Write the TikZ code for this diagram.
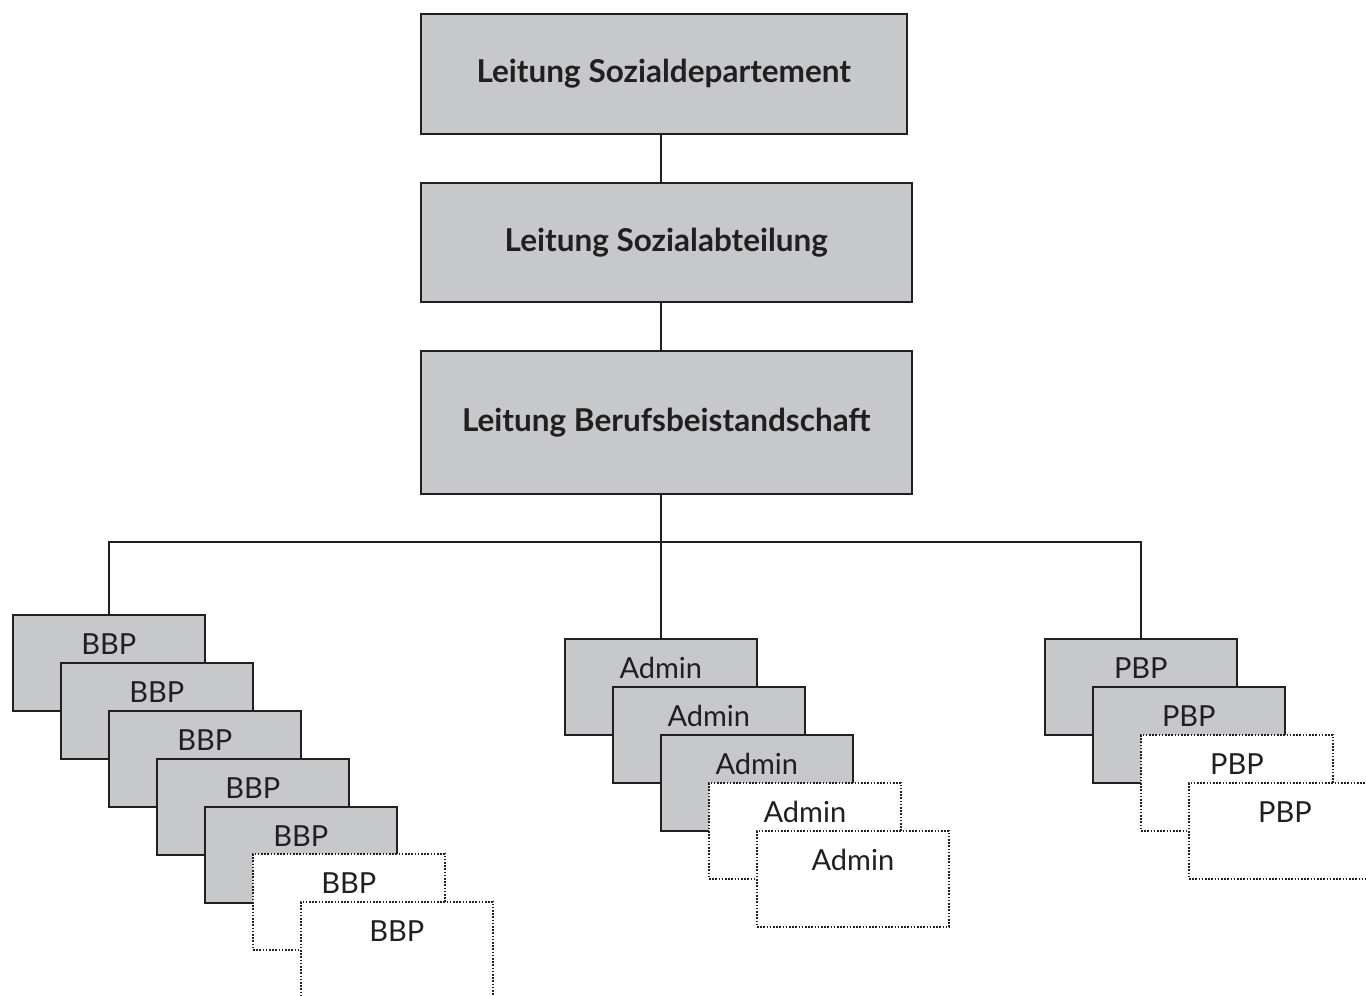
\documentclass[tikz,border=0pt]{standalone}
\usepackage{fontspec}
\setmainfont{Lato}
\definecolor{boxgray}{HTML}{C7C8CA}
\definecolor{ink}{HTML}{231F20}
\begin{document}
\begin{tikzpicture}[x=1pt,y=-1pt,
  line/.style={draw=ink,line width=1.6pt},
  headbox/.style={line,fill=boxgray,rectangle,anchor=north west,inner sep=0pt,
    text=ink,font=\bfseries\fontsize{31.5}{36}\selectfont},
  unitbox/.style={rectangle,anchor=north west,inner xsep=0pt,inner ysep=0pt,
    minimum width=192pt,text height=40pt,text depth=56pt,text=ink,
    font=\fontsize{29}{33}\selectfont},
  solidunit/.style={unitbox,line,fill=boxgray},
  dotunit/.style={unitbox,draw=ink,line width=1.8pt,dash pattern=on 1.6pt off 1.6pt,fill=white}]
\useasboundingbox (0,0) rectangle (1366,996);
\clip (0,0) rectangle (1366,996);
% head boxes
\node[headbox,minimum width=486pt,minimum height=120pt] (sd) at (420,13) {Leitung Sozialdepartement};
\node[headbox,minimum width=491pt,minimum height=119pt] (sa) at (420,182) {Leitung Sozialabteilung};
\node[headbox,minimum width=491pt,minimum height=143pt] (bb) at (420,350) {Leitung Berufsbeistandschaft};
% BBP stack
\node[solidunit] (bbp1) at (12,614) {BBP};
\node[solidunit] (bbp2) at (60,662) {BBP};
\node[solidunit] (bbp3) at (108,710) {BBP};
\node[solidunit] (bbp4) at (156,758) {BBP};
\node[solidunit] (bbp5) at (204,806) {BBP};
\node[dotunit] (bbp6) at (252,853) {BBP};
\node[dotunit] (bbp7) at (300,901) {BBP};
% Admin stack
\node[solidunit] (ad1) at (564,638) {Admin};
\node[solidunit] (ad2) at (612,686) {Admin};
\node[solidunit] (ad3) at (660,734) {Admin};
\node[dotunit] (ad4) at (708,782) {Admin};
\node[dotunit] (ad5) at (756,830) {Admin};
% PBP stack
\node[solidunit] (pbp1) at (1044,638) {PBP};
\node[solidunit] (pbp2) at (1092,686) {PBP};
\node[dotunit] (pbp3) at (1140,734) {PBP};
\node[dotunit] (pbp4) at (1188,782) {PBP};
% connectors
\coordinate (j) at (660,542);
\draw[line] (sd.south -| ad1.north) -- (sa.north -| ad1.north);
\draw[line] (sa.south -| ad1.north) -- (bb.north -| ad1.north);
\draw[line] (bb.south -| ad1.north) -- (ad1.north);
\draw[line] (bbp1.north) |- (j) -| (pbp1.north);
\end{tikzpicture}
\end{document}
